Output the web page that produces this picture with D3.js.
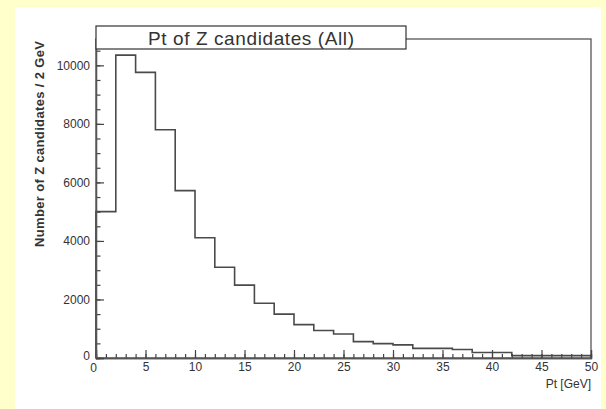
<!DOCTYPE html>
<html>
<head>
<meta charset="utf-8">
<script src="https://cdn.jsdelivr.net/npm/d3@7"></script>
<style>
  html, body { margin: 0; padding: 0; background: #ffffcc; }
  svg { display: block; }
  text { font-family: "Liberation Sans", Arial, sans-serif; fill: #333; }
</style>
</head>
<body>
<svg id="chart" width="606" height="409"></svg>
<script>
/* Histogram contents: Pt of Z candidates, 2 GeV bins from 0 to 50 */
let binEdges = d3.range(0, 52, 2);
let counts = [5000, 10350, 9760, 7800, 5720, 4110, 3100, 2490, 1870, 1500,
              1140, 940, 820, 560, 490, 450, 330, 330, 290, 190,
              190, 80, 80, 80, 80];
let xMajorTicks = [0, 5, 10, 15, 20, 25, 30, 35, 40, 45, 50];
let yMajorTicks = [0, 2000, 4000, 6000, 8000, 10000];

let svg = d3.select('#chart');

/* White canvas over the yellow page */
svg.append('rect')
    .attr('x', 15).attr('y', 7)
    .attr('width', 586).attr('height', 402)
    .attr('fill', '#fff');

let plotLeft = 96, plotRight = 591, plotTop = 39, plotBottom = 358;

let x = d3.scaleLinear().domain([0, 50]).range([plotLeft, plotRight]);
let y = d3.scaleLinear().domain([0, 10900]).range([plotBottom, plotTop]);

/* Frame */
svg.append('rect')
    .attr('x', plotLeft).attr('y', plotTop)
    .attr('width', plotRight - plotLeft).attr('height', plotBottom - plotTop)
    .attr('fill', 'none')
    .attr('stroke', '#555')
    .attr('stroke-width', 1.3);

/* Histogram outline */
let pts = [[0, 0]];
counts.forEach((c, i) => pts.push([binEdges[i], c]));
pts.push([50, counts[counts.length - 1]]);
pts.push([50, 0]);

let line = d3.line()
    .x(d => x(d[0]))
    .y(d => y(d[1]))
    .curve(d3.curveStepAfter);

svg.append('path')
    .attr('d', line(pts))
    .attr('fill', 'none')
    .attr('stroke', '#4a4a4a')
    .attr('stroke-width', 1.6);

/* X axis: major and minor ticks pointing inward */
let xMinor = svg.append('g')
    .attr('transform', `translate(0,${plotBottom})`)
    .call(d3.axisBottom(x).tickValues(d3.range(0, 51, 1)).tickSize(-4).tickFormat(''));
let xAxis = svg.append('g')
    .attr('transform', `translate(0,${plotBottom})`)
    .call(d3.axisBottom(x).tickValues(xMajorTicks).tickSize(-8).tickPadding(4).tickFormat(d3.format('d')));

/* Y axis */
let yMinor = svg.append('g')
    .attr('transform', `translate(${plotLeft},0)`)
    .call(d3.axisLeft(y).tickValues(d3.range(0, 10501, 500)).tickSize(-4.5).tickFormat(''));
let yAxis = svg.append('g')
    .attr('transform', `translate(${plotLeft},0)`)
    .call(d3.axisLeft(y).tickValues(yMajorTicks).tickSize(-8).tickPadding(6).tickFormat(d3.format('d')));

[xMinor, xAxis, yMinor, yAxis].forEach(g => {
    g.select('.domain').attr('stroke', '#555').attr('stroke-width', 1.3);
    g.selectAll('.tick line').attr('stroke', '#444').attr('stroke-width', 1.2);
    g.selectAll('.tick text')
        .style('font-family', '"Liberation Sans", Arial, sans-serif')
        .style('font-size', '12px')
        .attr('fill', '#333');
});
/* shift the overlapping zero labels like the original */
xAxis.selectAll('.tick text').filter(d => d === 0).attr('dx', -3).attr('dy', '0.8em');
yAxis.selectAll('.tick text').filter(d => d === 0).attr('dy', '0.1em');

/* Axis titles */
svg.append('text')
    .attr('x', plotRight)
    .attr('y', 388)
    .attr('text-anchor', 'end')
    .style('font-size', '12px')
    .text('Pt [GeV]');

svg.append('text')
    .attr('transform', `translate(44,41) rotate(-90)`)
    .attr('text-anchor', 'end')
    .attr('textLength', 206)
    .attr('lengthAdjust', 'spacing')
    .style('font-size', '13px')
    .style('font-weight', 'bold')
    .attr('fill', '#444')
    .text('Number of  Z candidates / 2 GeV');

/* Title box */
svg.append('rect')
    .attr('x', 96).attr('y', 26)
    .attr('width', 310).attr('height', 23)
    .attr('fill', '#fff')
    .attr('stroke', '#333')
    .attr('stroke-width', 1.2);
svg.append('text')
    .attr('x', 251)
    .attr('y', 44.5)
    .attr('text-anchor', 'middle')
    .attr('textLength', 206)
    .attr('lengthAdjust', 'spacing')
    .style('font-size', '19px')
    .attr('fill', '#222')
    .text('Pt of Z candidates (All)');
</script>
</body>
</html>
